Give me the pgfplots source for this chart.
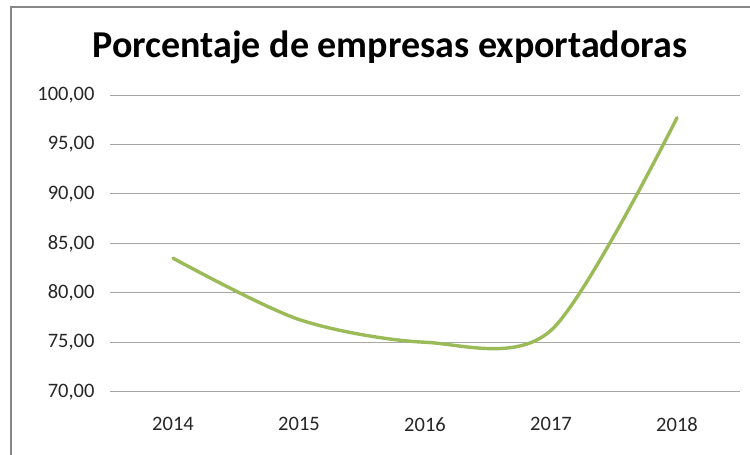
\documentclass[border=0pt]{standalone}
\usepackage{pgfplots}
\pgfplotsset{compat=1.18}
\usepackage{fontspec}
\setmainfont{Carlito}
\definecolor{linegreen}{HTML}{9BBB59}
\definecolor{framegray}{HTML}{878787}
\definecolor{gridgray}{HTML}{A6A6A6}
\begin{document}
\begin{tikzpicture}[x=1pt,y=1pt]
\useasboundingbox (0pt,0pt) rectangle (750pt,455pt);
\draw[framegray,line width=1.6pt] (11pt,0pt) -- (11pt,448pt) -- (750pt,448pt);
\node[font=\fontsize{38}{44}\selectfont\bfseries, anchor=base, inner sep=0pt] at (390pt,397pt) {Porcentaje de empresas exportadoras};
\begin{axis}[
  at={(110pt,63.3pt)}, anchor=south west,
  width=630pt, height=296.7pt, scale only axis,
  xmin=-0.5, xmax=4.5, ymin=70, ymax=100,
  xtick={0,1,2,3,4}, xticklabels={2014,2015,2016,2017,2018},
  ytick={70,75,80,85,90,95,100},
  yticklabel={\pgfmathprintnumber[fixed,fixed zerofill,precision=2,use comma]{\tick}},
  /pgf/number format/assume math mode=true,
  ymajorgrids, major grid style={gridgray,line width=0.9pt},
  axis line style={draw=none},
  major tick length=0pt,
  tick label style={font=\fontsize{20.5}{24}\selectfont, text=black!85},
  yticklabel style={xshift=-12pt},
  xticklabel style={yshift=-22pt},
  clip=false,
]
\addplot[linegreen, line width=3.4pt, smooth, tension=0.5, line cap=round] coordinates {
  (0,83.5) (1,77.3) (2,75.0) (3,76.2) (4,97.7)
};
\end{axis}
\end{tikzpicture}
\end{document}
